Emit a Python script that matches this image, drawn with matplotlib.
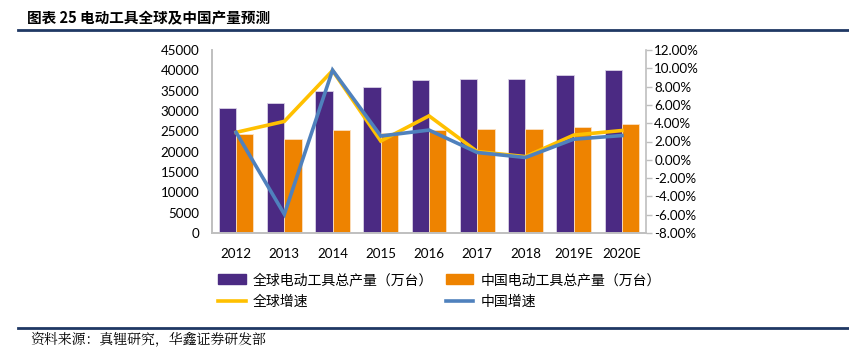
import matplotlib
matplotlib.use("Agg")
import matplotlib.pyplot as plt
import numpy as np
from matplotlib.patches import Patch
from matplotlib.lines import Line2D

plt.rcParams['font.family'] = ['Noto Sans CJK SC', 'DejaVu Sans']

years = ['2012', '2013', '2014', '2015', '2016', '2017', '2018', '2019E', '2020E']
global_output = [30700, 31900, 35000, 35800, 37500, 37800, 37900, 38900, 40100]
china_output = [24400, 23000, 25300, 24500, 25400, 25500, 25500, 26000, 26900]
global_growth = [3.0, 4.2, 9.75, 2.05, 4.8, 0.9, 0.35, 2.7, 3.2]
china_growth = [3.0, -5.95, 9.8, 2.6, 3.25, 0.8, 0.25, 2.25, 2.65]

left_ticks = [0, 5000, 10000, 15000, 20000, 25000, 30000, 35000, 40000, 45000]
right_ticks = [-8, -6, -4, -2, 0, 2, 4, 6, 8, 10, 12]

PURPLE = '#4B2A83'
ORANGE = '#EE8300'
YELLOW = '#FFC000'
BLUE = '#4F81BD'
GREY = '#BFBFBF'
NUMFONT = 'Lato'
NUMSIZE = 9.6

W, H = 849, 353
fig = plt.figure(figsize=(W / 100, H / 100), dpi=100)
ax = fig.add_axes([212 / W, 1 - 233 / H, (646 - 212) / W, (233 - 50) / H])
ax2 = ax.twinx()

x = np.arange(len(years))
bw = 0.36
ax.bar(x - bw / 2, global_output, bw, color=PURPLE, edgecolor='#D9D2E6', linewidth=0.6, zorder=2)
ax.bar(x + bw / 2, china_output, bw, color=ORANGE, edgecolor='#FBE0C0', linewidth=0.6, zorder=2)
ax.set_xlim(-0.5, len(years) - 0.5)
ax.set_ylim(0, 45000)
ax.set_yticks(left_ticks)
ax.set_yticklabels([str(t) for t in left_ticks], fontfamily=NUMFONT, fontsize=NUMSIZE)
ax.set_xticks(x)
ax.set_xticklabels(years, fontfamily=NUMFONT, fontsize=NUMSIZE)
ax.tick_params(axis='y', length=0, pad=9)
ax.tick_params(axis='x', length=0, pad=11)

ax2.plot(x, global_growth, color=YELLOW, linewidth=2.6, solid_joinstyle='miter', zorder=3)
ax2.plot(x, china_growth, color=BLUE, linewidth=2.6, solid_joinstyle='miter', zorder=4)
ax2.set_ylim(-8, 12)
ax2.set_yticks(right_ticks)
ax2.set_yticklabels([f'{t:.2f}%' for t in right_ticks], fontfamily=NUMFONT, fontsize=NUMSIZE)
ax2.tick_params(axis='y', length=4, color=GREY, width=1, pad=2)

for a in (ax, ax2):
    a.spines['top'].set_visible(False)
ax.spines['right'].set_visible(False)
for a in (ax, ax2):
    for s in a.spines.values():
        s.set_color(GREY)
        s.set_linewidth(1.2)

# Legend
handles = [
    Patch(facecolor=PURPLE, edgecolor=PURPLE),
    Line2D([], [], color=YELLOW, linewidth=2.6),
    Patch(facecolor=ORANGE, edgecolor=ORANGE),
    Line2D([], [], color=BLUE, linewidth=2.6),
]
labels = ['全球电动工具总产量（万台）', '全球增速', '中国电动工具总产量（万台）', '中国增速']
fig.legend(handles, labels, ncol=2, loc='upper left', bbox_to_anchor=(218 / W, 1 - 273 / H),
           frameon=False, fontsize=10, handlelength=2.0, handleheight=0.8, handletextpad=0.5,
           columnspacing=0.9, labelspacing=0.55, borderpad=0, borderaxespad=0)

# Title and frame lines
fig.text(27 / W, 1 - 18 / H, '图表 25 电动工具全球及中国产量预测', fontsize=10.5, fontweight='bold',
         va='center', ha='left', color='#000000')
fig.add_artist(Line2D([18 / W, 1.0], [1 - 29.5 / H] * 2, color='#1F3864', linewidth=2.0))
fig.add_artist(Line2D([18 / W, 1.0], [1 - 328 / H] * 2, color='#1F3864', linewidth=2.0))
fig.text(30 / W, 1 - 340 / H, '资料来源：真锂研究，华鑫证券研发部', fontsize=10, va='center', ha='left',
         family=['Noto Serif CJK SC', 'Noto Sans CJK SC', 'DejaVu Sans'])

fig.savefig('out.png', dpi=100)
